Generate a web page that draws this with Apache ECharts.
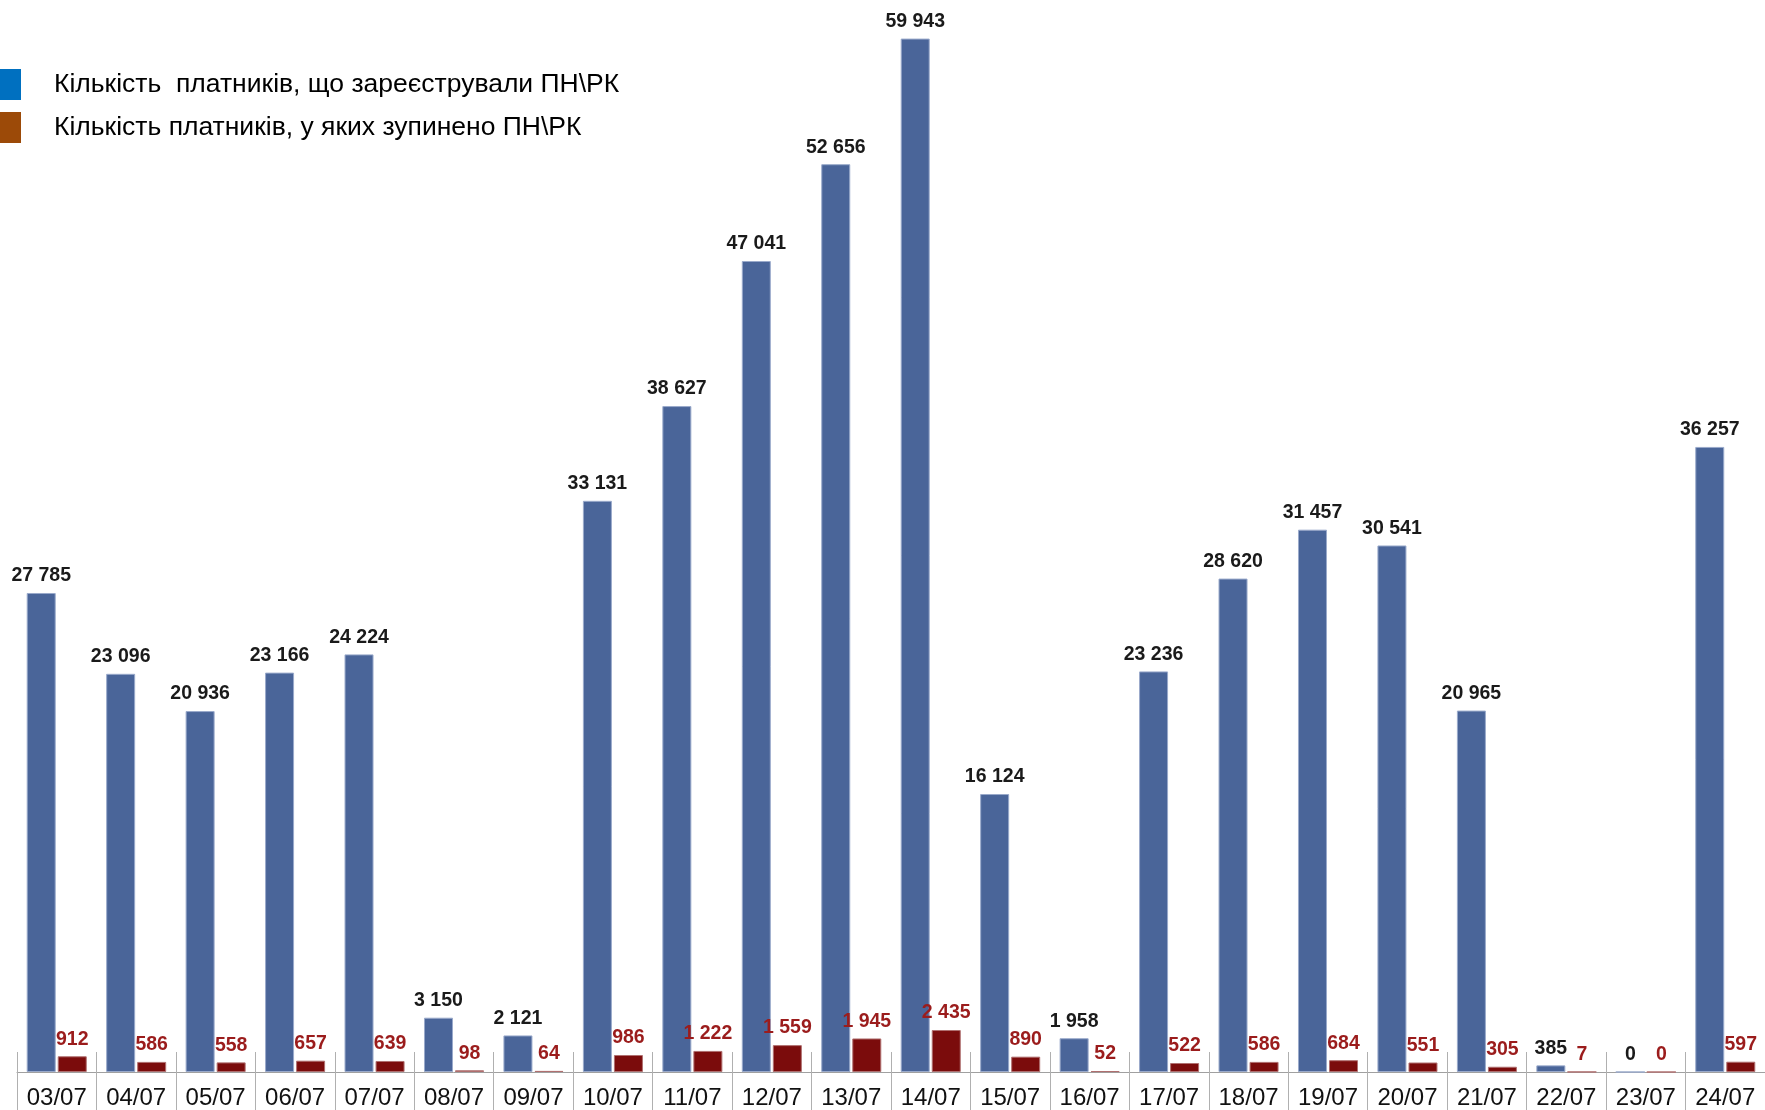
<!DOCTYPE html>
<html>
<head>
<meta charset="utf-8">
<script src="https://cdn.jsdelivr.net/npm/echarts@6/dist/echarts.min.js"></script>
<style>html,body{margin:0;padding:0;background:#fff}#c{width:1765px;height:1110px}</style>
</head>
<body>
<div id="c"></div>
<script>
const categories = ['03/07','04/07','05/07','06/07','07/07','08/07','09/07','10/07','11/07','12/07','13/07','14/07','15/07','16/07','17/07','18/07','19/07','20/07','21/07','22/07','23/07','24/07'];
const registered = [27785,23096,20936,23166,24224,3150,2121,33131,38627,47041,52656,59943,16124,1958,23236,28620,31457,30541,20965,385,0,36257];
const stopped = [912,586,558,657,639,98,64,986,1222,1559,1945,2435,890,52,522,586,684,551,305,7,0,597];
const seriesNames = ['Кількість  платників, що зареєстрували ПН\\РК','Кількість платників, у яких зупинено ПН\\РК'];

const fmt = v => String(v).replace(/\B(?=(\d{3})+(?!\d))/g, ' ');
const chart = echarts.init(document.getElementById('c'));
const valFont = '"Liberation Sans",Arial,sans-serif';
chart.setOption({
  animation: false,
  legend: {
    orient: 'vertical', left: 0, top: 69, padding: 0, itemWidth: 21, itemHeight: 31, itemGap: 12,
    icon: 'rect',
    itemStyle: { borderWidth: 0 },
    textStyle: { fontSize: 26.5, color: '#000', fontFamily: '"Liberation Sans",Arial,sans-serif', padding: [0,0,0,28] },
    data: [
      { name: seriesNames[0], itemStyle: { color: '#0070C0', borderWidth: 0 } },
      { name: seriesNames[1], itemStyle: { color: '#9C4A08', borderWidth: 0 } }
    ]
  },
  grid: { left: 17, width: 1753, top: 37.6, bottom: 38, containLabel: false },
  xAxis: [
    {
      type: 'category', data: categories, position: 'bottom',
      axisLine: { lineStyle: { color: '#a0a0a0', width: 1 } },
      axisTick: { show: true, length: 40, lineStyle: { color: '#b0b0b0' } },
      axisLabel: { fontSize: 24, color: '#111', margin: 14, fontFamily: '"Liberation Sans",Arial,sans-serif', interval: 0 }
    },
    {
      type: 'category', data: categories, position: 'bottom',
      axisLine: { show: false },
      axisTick: { show: true, inside: true, length: 20, lineStyle: { color: '#b0b0b0' } },
      axisLabel: { show: false }
    }
  ],
  yAxis: { type: 'value', min: 0, max: 60000, show: false, splitLine: { show: false } },
  series: [
    {
      name: seriesNames[0], type: 'bar', data: registered, barWidth: 29, barGap: '7%',
      itemStyle: { color: '#4A6599', borderColor: '#9AAACB', borderWidth: 1 },
      label: { show: true, position: 'top', distance: 7, formatter: p => fmt(p.value),
        fontSize: 19.5, fontWeight: 'bold', color: '#1a1a1a', fontFamily: valFont }
    },
    {
      name: seriesNames[1], type: 'bar', data: stopped, barWidth: 29,
      itemStyle: { color: '#7B0C0C', borderColor: '#B07070', borderWidth: 1 },
      label: { show: true, position: 'top', distance: 7, formatter: p => fmt(p.value),
        fontSize: 19.5, fontWeight: 'bold', color: '#9B1C1C', fontFamily: valFont }
    }
  ]
});
</script>
</body>
</html>
